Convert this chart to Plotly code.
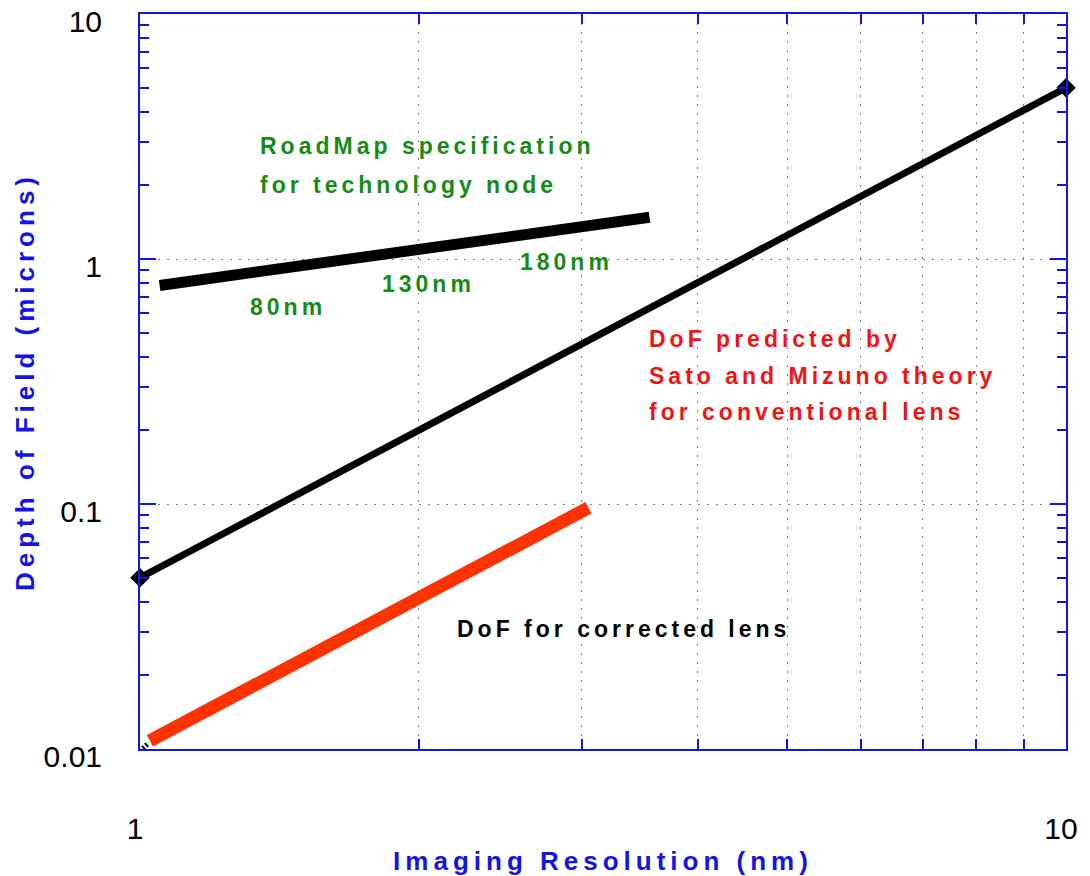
import plotly.graph_objects as go

# Data
theory_x = [1.0, 10.0]
theory_y = [0.05, 5.0]

roadmap_x = [1.05, 3.55]
roadmap_y = [0.78, 1.48]

corrected_x = [1.025, 3.05]
corrected_y = [0.0108, 0.0965]

stub_x = [1.0, 1.022]
stub_y = [0.0098, 0.0106]

x_tickvals = [1, 10]
x_ticktext = ["1", "10"]
x_minor = [2, 3, 4, 5, 6, 7, 8, 9]
y_tickvals = [0.01, 0.1, 1, 10]
y_ticktext = ["0.01", "0.1", "1", "10"]
y_minor = [m * d for d in (0.01, 0.1, 1) for m in range(2, 10)]

BLUE = "#1414e6"
GREEN = "#168c16"
RED = "#f01414"

fig = go.Figure()
fig.add_trace(go.Scatter(x=stub_x, y=stub_y, mode="lines",
                         line=dict(color="black", width=5, dash="2px,2px"),
                         showlegend=False, hoverinfo="skip"))
fig.add_trace(go.Scatter(x=corrected_x, y=corrected_y, mode="lines",
                         line=dict(color="#ff3300", width=13),
                         showlegend=False))
fig.add_trace(go.Scatter(x=roadmap_x, y=roadmap_y, mode="lines",
                         line=dict(color="black", width=11),
                         showlegend=False))
fig.add_trace(go.Scatter(x=theory_x, y=theory_y, mode="lines+markers",
                         line=dict(color="black", width=7),
                         marker=dict(symbol="diamond", size=15, color="black"),
                         cliponaxis=False, showlegend=False))

L, R, T, B = 140, 1066, 14, 749
W, H = 1090, 876


def px(x):
    return (x - L) / (R - L)


def py(y):
    return (B - y) / (B - T)


def spaced(t, s=4):
    return f'<span style="letter-spacing:{s}px">{t}</span>'


notes = [
    ("RoadMap specification", 258, 146, GREEN),
    ("for technology node", 258, 185, GREEN),
    ("80nm", 248, 307, GREEN),
    ("130nm", 380, 284, GREEN),
    ("180nm", 518, 262, GREEN),
    ("DoF predicted by", 647, 339, RED),
    ("Sato and Mizuno theory", 647, 376, RED),
    ("for conventional lens", 647, 412, RED),
    ("DoF for corrected lens", 455, 629, "black"),
]
for t, x, y, c in notes:
    fig.add_annotation(text=spaced(t), x=px(x), y=py(y), xref="paper", yref="paper",
                       xanchor="left", yanchor="middle", showarrow=False,
                       font=dict(family="Liberation Sans", size=23, color=c, weight="bold"))

fig.update_layout(
    width=W, height=H,
    margin=dict(l=L, r=W - R, t=T, b=H - B, autoexpand=False),
    plot_bgcolor="white", paper_bgcolor="white",
    font=dict(family="Liberation Sans", color="black"),
    xaxis=dict(
        type="log", range=[0, 1], automargin=False,
        tickvals=x_tickvals, ticktext=x_ticktext,
        ticks="inside", ticklen=16, tickcolor=BLUE, tickwidth=2,
        showline=True, linecolor=BLUE, linewidth=2, mirror="allticks",
        showgrid=False, zeroline=False,
        tickfont=dict(size=30, color="black"),
        ticklabelstandoff=52, ticklabelshift=-5, ticklabeloverflow="allow",
        minor=dict(tickvals=x_minor, ticks="inside", ticklen=10, tickcolor=BLUE, tickwidth=2,
                   showgrid=True, gridcolor="#808080", griddash="2px,7px", gridwidth=1),
        title=dict(text=spaced("Imaging Resolution (nm)", 5), standoff=16,
                   font=dict(size=26, color=BLUE, weight="bold")),
    ),
    yaxis=dict(
        type="log", range=[-2, 1], automargin=False,
        tickvals=y_tickvals, ticktext=y_ticktext,
        ticks="inside", ticklen=16, tickcolor=BLUE, tickwidth=2,
        showline=True, linecolor=BLUE, linewidth=2, mirror="allticks",
        showgrid=True, gridcolor="#808080", griddash="2px,7px", gridwidth=1,
        zeroline=False,
        tickfont=dict(size=30, color="black"),
        ticklabelstandoff=30, ticklabelshift=7, ticklabeloverflow="allow",
        minor=dict(tickvals=y_minor, ticks="inside", ticklen=9, tickcolor=BLUE, tickwidth=2,
                   showgrid=False),
        title=dict(text=spaced("Depth of Field (microns)", 5), standoff=2,
                   font=dict(size=26, color=BLUE, weight="bold")),
    ),
)

fig.write_html("out.html")
